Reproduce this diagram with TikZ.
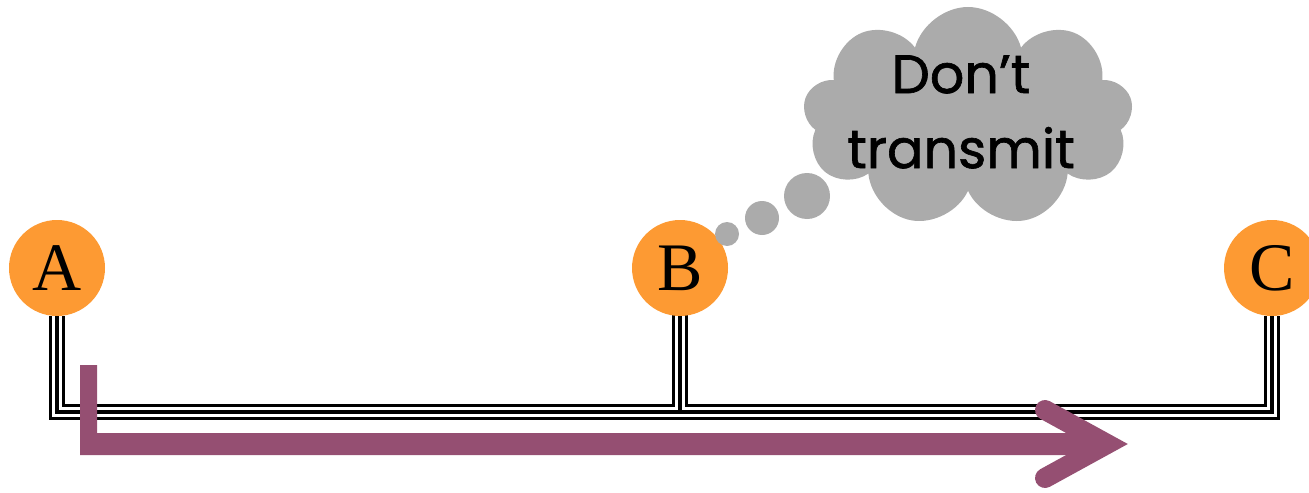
\documentclass[tikz,border=0pt]{standalone}
\usepackage{fontspec}
\usepackage{tikz}
\usetikzlibrary{positioning}
\usetikzlibrary{shapes.symbols}
\usetikzlibrary{backgrounds}
\newfontfamily\thinkfont{Poppins}[FakeBold=1.2]
\setmainfont{Liberation Serif}
\definecolor{stationorange}{RGB}{253,154,51}
\definecolor{framepurple}{RGB}{149,79,114}
\definecolor{thinkgray}{RGB}{171,171,171}

\begin{document}
\begin{tikzpicture}[x=0.5pt,y=-0.5pt,
station/.style={circle,fill=stationorange,inner sep=0pt,outer sep=0pt,minimum size=48pt,font=\fontsize{34}{34}\selectfont},
puff/.style={circle,fill=thinkgray,inner sep=0pt},
frame/.style={framepurple,line width=10pt}]
\useasboundingbox (0,0) rectangle (1309,492);
\node[station] (A) at (57,268) {A};
\node[station,right=263.5pt of A] (B) {B};
\node[station,right=248pt of B] (C) {C};
\coordinate (bus) at (0,412);
% shared cable: outer rails, gap, centre wire
\begin{scope}[on background layer]
\foreach \w/\c in {8pt/black,5pt/white,2.2pt/black}
  \draw[line width=\w,\c,shorten <=-3pt] (A) -- (A |- bus) -- (C |- bus) -- (C)
    (B) -- (B |- bus);
\end{scope}
% thought bubble over B
\node[puff,minimum size=12pt] (p1) at (727,234) {};
\node[puff,minimum size=17pt] (p2) at (762,218) {};
\node[puff,minimum size=23pt] (p3) at (807,196) {};
\node[cloud,cloud puffs=9,aspect=1.5,fill=thinkgray,inner sep=0pt,minimum width=165pt,minimum height=110pt] (think) at (968,117) {};
\node[align=center,font=\thinkfont\fontsize{27}{37.5}\selectfont] (thought) at (961,112) {Don’t\\transmit};
% frame sent by A
\coordinate (fs) at (80,365);
\coordinate (fv) at (97,433);
\coordinate (fc) at (80,455);
\coordinate (fe) at (1100,444);
\coordinate (ft) at (1107,444);
\fill[framepurple] (fs) -| (fv) -| (fe |- fv) |- (fc) -- cycle;
\draw[frame,line cap=round,miter limit=10] (1045,410) -- (ft) -- (1045,478);
\end{tikzpicture}
\end{document}
